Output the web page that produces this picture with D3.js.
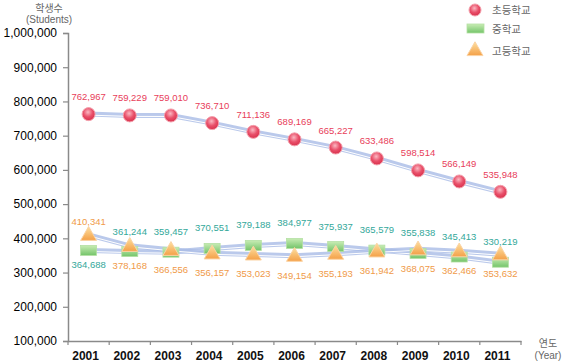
<!DOCTYPE html>
<html>
<head>
<meta charset="utf-8">
<script src="https://cdn.jsdelivr.net/npm/d3@7"></script>
<style>
body { margin: 0; background: #fff; }
text { font-family: "Liberation Sans", Arial, sans-serif; }
.kr { font-family: "Noto Sans CJK KR", "Liberation Sans", sans-serif; }
</style>
</head>
<body>
<div id="chart"></div>
<script>
let years = ["2001","2002","2003","2004","2005","2006","2007","2008","2009","2010","2011"];
let elementary = [762967,759229,759010,736710,711136,689169,665227,633486,598514,566149,535948];
let middle = [364688,361244,359457,370551,379188,384977,375937,365579,355838,345413,330219];
let high = [410341,378168,366556,356157,353023,349154,355193,361942,368075,362466,353632];
let y_ticks = [100000,200000,300000,400000,500000,600000,700000,800000,900000,1000000];
let series_names = ["초등학교","중학교","고등학교"];

let svg = d3.select("#chart").append("svg").attr("width", 564).attr("height", 363);
let defs = svg.append("defs");

let rg = defs.append("radialGradient").attr("id", "gRed").attr("cx", "45%").attr("cy", "35%").attr("r", "65%");
rg.append("stop").attr("offset", "0%").attr("stop-color", "#fbb8c2");
rg.append("stop").attr("offset", "55%").attr("stop-color", "#e9506a");
rg.append("stop").attr("offset", "100%").attr("stop-color", "#d8304c");

let gg = defs.append("linearGradient").attr("id", "gGreen").attr("x1", 0).attr("y1", 0).attr("x2", 0).attr("y2", 1);
gg.append("stop").attr("offset", "0%").attr("stop-color", "#c8ecb4");
gg.append("stop").attr("offset", "100%").attr("stop-color", "#74c46a");

let og = defs.append("linearGradient").attr("id", "gOrange").attr("x1", 0).attr("y1", 0).attr("x2", 0).attr("y2", 1);
og.append("stop").attr("offset", "0%").attr("stop-color", "#fde0a0");
og.append("stop").attr("offset", "100%").attr("stop-color", "#f4a048");

let x = d3.scaleBand().domain(years).range([68, 521]);
let y = d3.scaleLinear().domain([100000, 1000000]).range([341, 33]);
let cx = d => x(d) + x.bandwidth() / 2;

// y axis
let y_axis = d3.axisLeft(y).tickValues(y_ticks).tickSize(5).tickPadding(6).tickFormat(d3.format(","));
let gy = svg.append("g").attr("transform", "translate(68,0)").call(y_axis);
gy.select(".domain").attr("stroke", "#8a8a8a").attr("stroke-width", 1.5);
gy.selectAll(".tick line").attr("stroke", "#8a8a8a").attr("stroke-width", 1.2);
gy.selectAll(".tick text").attr("font-size", 12).attr("fill", "#000");

// x axis
let x_axis = d3.axisBottom(x).tickSize(0).tickPadding(10);
let gx = svg.append("g").attr("transform", "translate(0,341)").call(x_axis);
gx.select(".domain").attr("stroke", "#8a8a8a").attr("stroke-width", 1.5);
gx.selectAll(".tick text").attr("font-size", 12).attr("font-weight", "bold").attr("fill", "#111").attr("dx", -3);
let bounds = years.map(d => x(d)).concat([x.range()[1]]);
gx.selectAll("line.bt").data(bounds).enter().append("line")
  .attr("x1", d => d).attr("x2", d => d).attr("y1", 0).attr("y2", 4)
  .attr("stroke", "#8a8a8a").attr("stroke-width", 1.2);

// axis titles
svg.append("text").attr("class", "kr").attr("x", 49).attr("y", 12).attr("text-anchor", "middle")
  .attr("font-size", 10).attr("fill", "#666").text("학생수");
svg.append("text").attr("x", 49).attr("y", 23).attr("text-anchor", "middle")
  .attr("font-size", 10).attr("fill", "#666").text("(Students)");
svg.append("text").attr("class", "kr").attr("x", 548).attr("y", 347).attr("text-anchor", "middle")
  .attr("font-size", 10).attr("fill", "#666").text("연도");
svg.append("text").attr("x", 548).attr("y", 359).attr("text-anchor", "middle")
  .attr("font-size", 10).attr("fill", "#666").text("(Year)");

// lines
let line = d3.line().x((d, i) => cx(years[i])).y(d => y(d));
[elementary, middle, high].forEach(function(s) {
  svg.append("path").datum(s).attr("d", line).attr("fill", "none")
    .attr("stroke", "#a9bce6").attr("stroke-width", 5).attr("stroke-opacity", 0.8);
  svg.append("path").datum(s).attr("d", line).attr("fill", "none")
    .attr("stroke", "#fff").attr("stroke-width", 1).attr("transform", "translate(0,1)");
});

// markers
svg.selectAll("rect.mid").data(middle).enter().append("rect")
  .attr("x", (d, i) => cx(years[i]) - 8).attr("y", d => y(d) - 5)
  .attr("width", 16).attr("height", 10)
  .attr("fill", "url(#gGreen)").attr("stroke", "#b4e0a4").attr("stroke-width", 0.8);

let tri = d3.symbol().type(d3.symbolTriangle).size(110);
svg.selectAll("path.high").data(high).enter().append("path")
  .attr("d", tri).attr("transform", (d, i) => "translate(" + cx(years[i]) + "," + (y(d) + 1) + ")")
  .attr("fill", "url(#gOrange)").attr("stroke", "#fbd3a4").attr("stroke-width", 1);

svg.selectAll("circle.elem").data(elementary).enter().append("circle")
  .attr("cx", (d, i) => cx(years[i])).attr("cy", d => y(d)).attr("r", 6.5)
  .attr("fill", "url(#gRed)").attr("stroke", "#f4a0ac").attr("stroke-width", 1);

// data labels
let fmt = d3.format(",");
svg.selectAll("text.el").data(elementary).enter().append("text")
  .attr("x", (d, i) => cx(years[i])).attr("y", d => y(d) - 14)
  .attr("text-anchor", "middle").attr("font-size", 9.5).attr("fill", "#e8405a").text(d => fmt(d));
svg.selectAll("text.ml").data(middle).enter().append("text")
  .attr("x", (d, i) => cx(years[i])).attr("y", (d, i) => i == 0 ? y(d) + 18 : y(d) - 17)
  .attr("text-anchor", "middle").attr("font-size", 9.5).attr("fill", "#33a89a").text(d => fmt(d));
svg.selectAll("text.hl").data(high).enter().append("text")
  .attr("x", (d, i) => cx(years[i])).attr("y", (d, i) => i == 0 ? y(d) - 10 : y(d) + 23)
  .attr("text-anchor", "middle").attr("font-size", 9.5).attr("fill", "#f09a48").text(d => fmt(d));

// legend
let lg = svg.append("g");
lg.append("circle").attr("cx", 475).attr("cy", 10).attr("r", 6)
  .attr("fill", "url(#gRed)").attr("stroke", "#f4a0ac");
lg.append("rect").attr("x", 467).attr("y", 24).attr("width", 17).attr("height", 9)
  .attr("fill", "url(#gGreen)").attr("stroke", "#b4e0a4").attr("stroke-width", 0.8);
lg.append("path").attr("d", tri).attr("transform", "translate(475,51)")
  .attr("fill", "url(#gOrange)").attr("stroke", "#fbd3a4");
lg.selectAll("text").data(series_names).enter().append("text").attr("class", "kr")
  .attr("x", 492).attr("y", (d, i) => [14, 33, 55][i])
  .attr("font-size", 10.5).attr("fill", "#666").text(d => d);
</script>
</body>
</html>
